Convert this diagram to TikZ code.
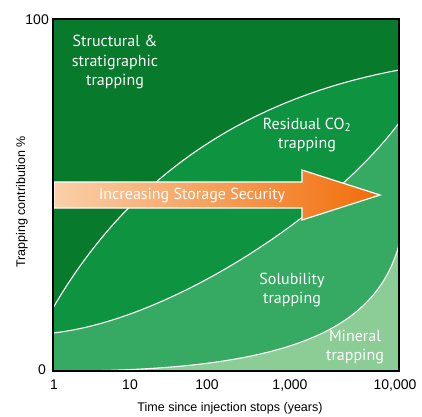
\documentclass[tikz,border=0pt]{standalone}
\usepackage{fontspec}
\setmainfont{PT Sans}
\newfontfamily\axisfont{Liberation Sans}
\definecolor{gStruct}{RGB}{8,122,44}
\definecolor{gResid}{RGB}{14,148,64}
\definecolor{gSol}{RGB}{54,170,98}
\definecolor{gMin}{RGB}{140,205,150}
\definecolor{arrL}{RGB}{250,208,170}
\definecolor{arrR}{RGB}{242,108,8}
\tikzset{
  region label/.style={text=white, align=center, font=\fontsize{16}{19.5}\selectfont, inner sep=0pt},
  tick label/.style={font=\axisfont\fontsize{14}{16}\selectfont, inner sep=0pt},
  axis title/.style={font=\axisfont\fontsize{12.5}{14}\selectfont, inner sep=0pt},
  boundary/.style={white, line width=1.1pt},
}
\begin{document}
\begin{tikzpicture}[x=1pt,y=-1pt]
\useasboundingbox (0,0) rectangle (422,416);
\coordinate (bl) at (53,371);
\coordinate (br) at (399,371);
\coordinate (a0) at (53,308);
\coordinate (a1) at (399,70);
\coordinate (b0) at (53,333);
\coordinate (b1) at (399,123);
\coordinate (c0) at (53,371);
\coordinate (c1) at (399,245);
% regions
\fill[gStruct] (53,19) rectangle (399,371);
\fill[gResid] (a0) .. controls (110,210) and (210,105) .. (a1) -- (br) -- (bl) -- cycle;
\fill[gSol] (b0) .. controls (170,320) and (330,215) .. (b1) -- (br) -- (bl) -- cycle;
\fill[gMin] (c0) .. controls (290,372) and (375,330) .. (c1) -- (br) -- cycle;
% boundaries
\draw[boundary] (a0) .. controls (110,210) and (210,105) .. (a1);
\draw[boundary] (b0) .. controls (170,320) and (330,215) .. (b1);
\draw[boundary] (c0) .. controls (290,372) and (375,330) .. (c1);
% arrow
\shade[left color=arrL, right color=arrR, draw=white, line width=1.2pt]
  (54,182) -- (302,182) -- (302,170) -- (380,195) -- (302,220) -- (302,208) -- (54,208) -- cycle;
\node[region label, font=\fontsize{16}{18}\selectfont] (sec) at (192,195) {Increasing Storage Security};
% frame
\draw[black, line width=2.5pt] (53,19) rectangle (399,371);
% region labels
\node[region label] (struct) at (115,62) {Structural \&\\stratigraphic\\trapping};
\node[region label] (resid) at (307,135) {Residual CO\textsubscript{2}\\trapping};
\node[region label] (sol) at (292,290) {Solubility\\trapping};
\node[region label] (min) at (355,347) {Mineral\\trapping};
% axes text
\node[tick label, anchor=east] (y100) at (49,20) {100};
\node[tick label, anchor=east] (y0) at (46,370) {0};
\node[tick label] (x1) at (54,385) {1};
\node[tick label] (x10) at (130,385) {10};
\node[tick label] (x100) at (207,385) {100};
\node[tick label] (x1000) at (290,385) {1,000};
\node[tick label] (x10000) at (395,385) {10,000};
\node[axis title] (xt) at (230,408) {Time since injection stops (years)};
\node[axis title, rotate=90] (yt) at (22,202) {Trapping contribution \%};
\end{tikzpicture}
\end{document}
